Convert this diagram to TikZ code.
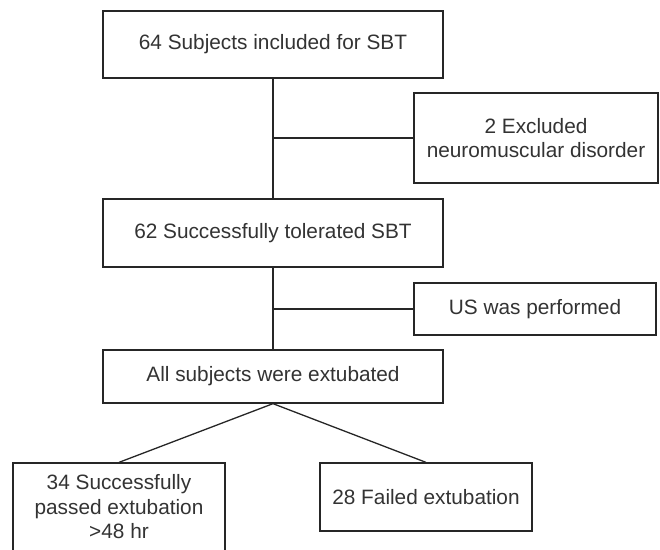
\documentclass[tikz,border=0pt]{standalone}
\usepackage{fontspec}
\setmainfont{Liberation Sans}
\begin{document}
\begin{tikzpicture}[x=1pt,y=-1pt,
  box/.style={draw=black!85, line width=1.3pt, fill=white, text=black!80,
    inner sep=0pt, align=center,
    font=\fontsize{20.8}{24.5}\selectfont},
  conn/.style={draw=black!85, line width=1.3pt}]
\useasboundingbox (0,0) rectangle (660,549);
\node[box, minimum width=340, minimum height=67] (b1) at (273,44.5) {64 Subjects included for SBT};
\node[box, minimum width=244, minimum height=90] (b2) at (536,138) {2 Excluded\\neuromuscular disorder};
\node[box, minimum width=340, minimum height=68] (b3) at (273,233) {62 Successfully tolerated SBT};
\node[box, minimum width=242, minimum height=52] (us) at (535,309) {US was performed};
\node[box, minimum width=340, minimum height=53] (b4) at (273,376.5) {All subjects were extubated};
\node[box, minimum width=212, minimum height=88] (b5) at (119,507) {34 Successfully\\passed extubation\\>48 hr};
\node[box, minimum width=212, minimum height=68] (b6) at (426,497) {28 Failed extubation};
\coordinate (j1) at (273,138);
\coordinate (j2) at (273,309);
\draw[conn] (b1.south) -- (b3.north);
\draw[conn] (j1) -- (b2.west);
\draw[conn] (b3.south) -- (b4.north);
\draw[conn] (j2) -- (us.west);
\draw[conn] (b4.south) -- (b5.north);
\draw[conn] (b4.south) -- (b6.north);
\end{tikzpicture}
\end{document}
